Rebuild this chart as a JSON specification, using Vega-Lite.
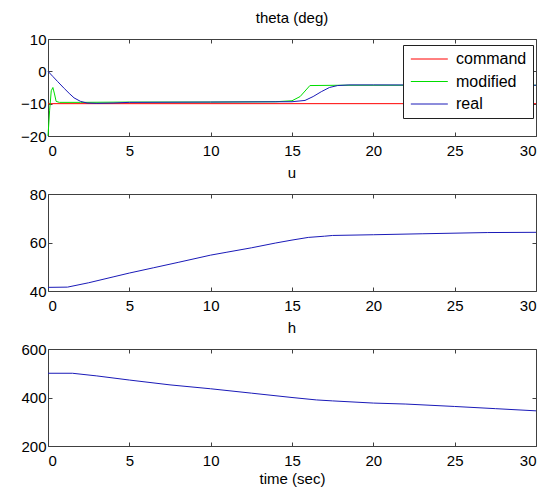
{
  "$schema": "https://vega.github.io/schema/vega-lite/v6.json",
  "padding": {"left": 20, "top": 10, "right": 5, "bottom": 5},
  "background": "white",
  "config": {
    "view": {"stroke": "#404040", "strokeWidth": 1},
    "font": "Liberation Sans",
    "axis": {
      "grid": false,
      "domain": false,
      "labelFont": "Liberation Sans",
      "labelFontSize": 15,
      "labelColor": "black",
      "tickColor": "#404040",
      "tickSize": -4,
      "labelPadding": 6,
      "titleFont": "Liberation Sans",
      "titleFontSize": 15,
      "titleFontWeight": "normal",
      "titleColor": "black"
    },
    "axisBottom": {"labelPadding": 11},
    "title": {"font": "Liberation Sans", "fontSize": 15, "fontWeight": "normal", "color": "black", "offset": 6}
  },
  "datasets": {
    "theta": [
      {"series": "command", "t": 0, "v": -10},
      {"series": "command", "t": 30, "v": -10},
      {"series": "modified", "t": 0, "v": -20},
      {"series": "modified", "t": 0.1, "v": -12},
      {"series": "modified", "t": 0.2, "v": -6},
      {"series": "modified", "t": 0.3, "v": -5},
      {"series": "modified", "t": 0.4, "v": -7},
      {"series": "modified", "t": 0.5, "v": -9.3},
      {"series": "modified", "t": 0.7, "v": -9.6},
      {"series": "modified", "t": 2, "v": -9.6},
      {"series": "modified", "t": 5, "v": -9.5},
      {"series": "modified", "t": 10, "v": -9.5},
      {"series": "modified", "t": 14, "v": -9.4},
      {"series": "modified", "t": 15, "v": -9.1},
      {"series": "modified", "t": 15.5, "v": -7.8},
      {"series": "modified", "t": 16.1, "v": -4.4},
      {"series": "modified", "t": 18, "v": -4.3},
      {"series": "modified", "t": 30, "v": -4.3},
      {"series": "real", "t": 0, "v": 0},
      {"series": "real", "t": 0.3, "v": -1.6},
      {"series": "real", "t": 0.6, "v": -3.2},
      {"series": "real", "t": 1.0, "v": -5.3},
      {"series": "real", "t": 1.3, "v": -6.8},
      {"series": "real", "t": 1.6, "v": -8.2},
      {"series": "real", "t": 2.0, "v": -9.3},
      {"series": "real", "t": 2.4, "v": -9.8},
      {"series": "real", "t": 3, "v": -9.9},
      {"series": "real", "t": 4, "v": -9.8},
      {"series": "real", "t": 5, "v": -9.6},
      {"series": "real", "t": 10, "v": -9.5},
      {"series": "real", "t": 15, "v": -9.4},
      {"series": "real", "t": 15.8, "v": -9.0},
      {"series": "real", "t": 16.3, "v": -7.8},
      {"series": "real", "t": 16.8, "v": -6.3},
      {"series": "real", "t": 17.3, "v": -5.0},
      {"series": "real", "t": 17.8, "v": -4.4},
      {"series": "real", "t": 18.5, "v": -4.2},
      {"series": "real", "t": 20, "v": -4.2},
      {"series": "real", "t": 30, "v": -4.3}
    ],
    "u": [
      {"t": 0, "v": 41.5}, {"t": 1.2, "v": 41.6}, {"t": 2.5, "v": 43.4}, {"t": 4, "v": 45.8},
      {"t": 5, "v": 47.4}, {"t": 6.5, "v": 49.6}, {"t": 8, "v": 51.8}, {"t": 10, "v": 54.8},
      {"t": 11, "v": 56}, {"t": 12.5, "v": 57.8}, {"t": 14, "v": 59.8}, {"t": 15, "v": 61},
      {"t": 16, "v": 62.1}, {"t": 17, "v": 62.6}, {"t": 17.5, "v": 62.9}, {"t": 20, "v": 63.2},
      {"t": 23, "v": 63.6}, {"t": 27, "v": 64.1}, {"t": 30, "v": 64.2}
    ],
    "h": [
      {"t": 0, "v": 500}, {"t": 1.5, "v": 500}, {"t": 3, "v": 489}, {"t": 5, "v": 472},
      {"t": 7.5, "v": 452}, {"t": 10, "v": 436}, {"t": 12.5, "v": 418}, {"t": 15, "v": 400},
      {"t": 16.5, "v": 390}, {"t": 17.5, "v": 386}, {"t": 20, "v": 377}, {"t": 22, "v": 373},
      {"t": 25, "v": 363}, {"t": 27.5, "v": 354}, {"t": 30, "v": 345}
    ]
  },
  "vconcat": [
    {
      "width": 488, "height": 97,
      "title": "theta (deg)",
      "data": {"name": "theta"},
      "layer": [
        {
          "mark": {"type": "line", "strokeWidth": 1},
          "encoding": {
            "x": {"field": "t", "type": "quantitative", "scale": {"domain": [0, 30], "nice": false}, "axis": {"title": null, "values": [0, 5, 10, 15, 20, 25, 30]}},
            "y": {"field": "v", "type": "quantitative", "scale": {"domain": [-20, 10], "nice": false}, "axis": {"title": null, "values": [-20, -10, 0, 10]}},
            "color": {
              "field": "series", "type": "nominal",
              "scale": {"domain": ["command", "modified", "real"], "range": ["#ff0000", "#00dd00", "#1a1ab8"]},
              "legend": {
                "title": null, "orient": "none", "legendX": 355, "legendY": 6,
                "fillColor": "white", "strokeColor": "#202020", "padding": 6,
                "symbolType": "M-1,0H5", "symbolSize": 152, "symbolStrokeWidth": 1,
                "labelFont": "Liberation Sans", "labelFontSize": 16, "labelColor": "black",
                "labelOffset": 31, "rowPadding": 6.5
              }
            }
          }
        },
        {
          "mark": {"type": "line", "opacity": 0},
          "encoding": {
            "x": {"field": "t", "type": "quantitative", "axis": {"orient": "top", "labels": false, "title": null, "values": [0, 5, 10, 15, 20, 25, 30]}},
            "y": {"field": "v", "type": "quantitative", "axis": {"orient": "right", "labels": false, "title": null, "values": [-20, -10, 0, 10]}}
          }
        }
      ],
      "resolve": {"axis": {"x": "independent", "y": "independent"}}
    },
    {
      "width": 488, "height": 97,
      "title": "u",
      "data": {"name": "u"},
      "layer": [
        {
          "mark": {"type": "line", "strokeWidth": 1, "color": "#1a1ab8"},
          "encoding": {
            "x": {"field": "t", "type": "quantitative", "scale": {"domain": [0, 30], "nice": false}, "axis": {"title": null, "values": [0, 5, 10, 15, 20, 25, 30]}},
            "y": {"field": "v", "type": "quantitative", "scale": {"domain": [40, 80], "nice": false}, "axis": {"title": null, "values": [40, 60, 80]}}
          }
        },
        {
          "mark": {"type": "line", "opacity": 0},
          "encoding": {
            "x": {"field": "t", "type": "quantitative", "axis": {"orient": "top", "labels": false, "title": null, "values": [0, 5, 10, 15, 20, 25, 30]}},
            "y": {"field": "v", "type": "quantitative", "axis": {"orient": "right", "labels": false, "title": null, "values": [40, 60, 80]}}
          }
        }
      ],
      "resolve": {"axis": {"x": "independent", "y": "independent"}}
    },
    {
      "width": 488, "height": 97,
      "title": "h",
      "data": {"name": "h"},
      "layer": [
        {
          "mark": {"type": "line", "strokeWidth": 1, "color": "#1a1ab8"},
          "encoding": {
            "x": {"field": "t", "type": "quantitative", "scale": {"domain": [0, 30], "nice": false}, "axis": {"title": "time (sec)", "titlePadding": 3, "values": [0, 5, 10, 15, 20, 25, 30]}},
            "y": {"field": "v", "type": "quantitative", "scale": {"domain": [200, 600], "nice": false}, "axis": {"title": null, "values": [200, 400, 600]}}
          }
        },
        {
          "mark": {"type": "line", "opacity": 0},
          "encoding": {
            "x": {"field": "t", "type": "quantitative", "axis": {"orient": "top", "labels": false, "title": null, "values": [0, 5, 10, 15, 20, 25, 30]}},
            "y": {"field": "v", "type": "quantitative", "axis": {"orient": "right", "labels": false, "title": null, "values": [200, 400, 600]}}
          }
        }
      ],
      "resolve": {"axis": {"x": "independent", "y": "independent"}}
    }
  ],
  "bounds": "flush",
  "spacing": 58
}
